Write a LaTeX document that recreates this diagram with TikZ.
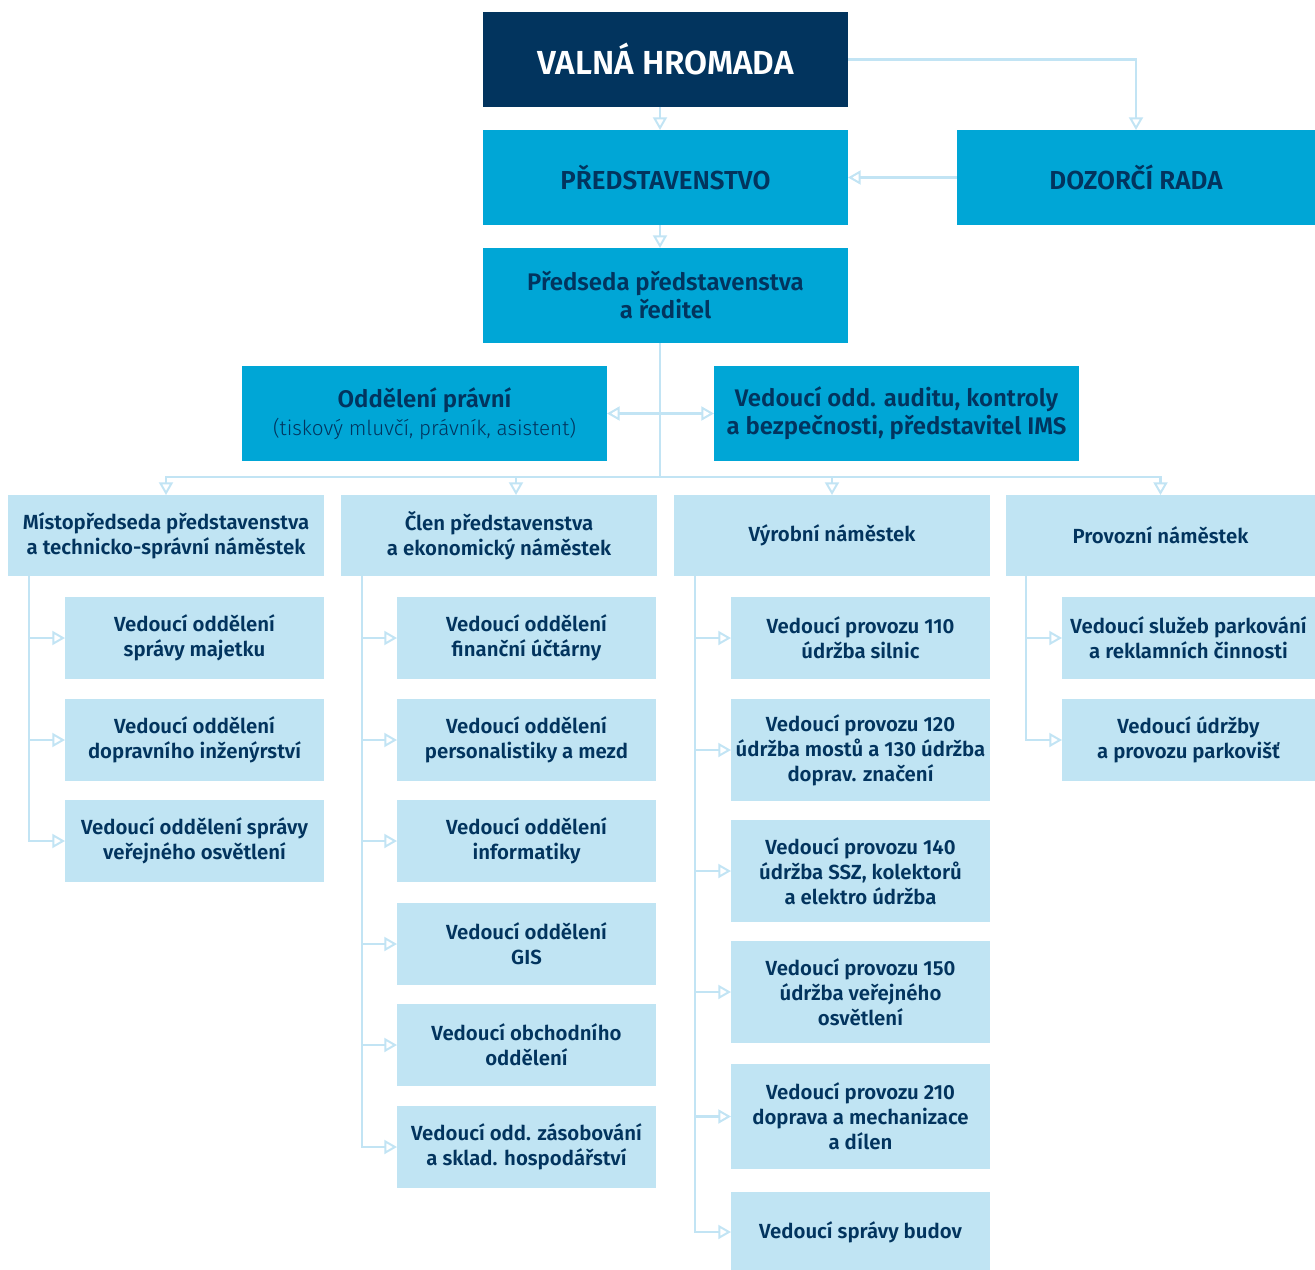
\documentclass[tikz,border=0pt]{standalone}
\usepackage{fontspec}
\setmainfont{Fira Sans}[BoldFont={Fira Sans SemiBold}]
\newfontfamily\lightfont{Fira Sans Light}
\usetikzlibrary{arrows.meta,positioning}
\definecolor{vhnavy}{RGB}{2,52,94}
\definecolor{boardblue}{RGB}{0,166,214}
\definecolor{unitblue}{RGB}{192,228,243}
\definecolor{linkblue}{RGB}{194,228,244}

\begin{document}
\begin{tikzpicture}[
  x=0.75pt,y=-0.75pt,
  >={Triangle[open,length=9.5pt,width=10.5pt,line width=1.5pt]},
  every node/.style={inner sep=0pt,outer sep=0pt,align=center},
  topbox/.style={fill=vhnavy,text=white,minimum width=273.75pt,
    minimum height=71.25pt,font=\fontsize{25}{30}\selectfont\bfseries},
  board/.style={fill=boardblue,text=vhnavy,minimum width=273.75pt,
    minimum height=71.25pt,font=\fontsize{18}{21}\selectfont\bfseries},
  head/.style={fill=unitblue,text=vhnavy,minimum width=237pt,
    minimum height=60.75pt,font=\fontsize{15.3}{18.75}\selectfont\bfseries},
  unit/.style={fill=unitblue,text=vhnavy,minimum width=194.25pt,
    minimum height=61.5pt,font=\fontsize{15.3}{18.75}\selectfont\bfseries},
  tallunit/.style={unit,minimum height=76.5pt},
  trunk/.style={draw=linkblue,line width=1.6pt},
  link/.style={trunk,->},
  link2/.style={trunk,<->},
]
\useasboundingbox (0,0) rectangle (1315,1270);

\node[topbox,anchor=north west](VH)at(483,12){VALNÁ HROMADA};
\node[board,anchor=north west,font=\fontsize{19.5}{23}\selectfont\bfseries](PR)
  at(483,130){PŘEDSTAVENSTVO};
\node[board,anchor=north west,minimum width=268.5pt,font=\fontsize{19.5}{23}\selectfont\bfseries](DR)
  at(957,130){DOZORČÍ RADA};
\node[board,anchor=north west](PS)at(483,248){Předseda představenstva\\a ředitel};
\node[board,anchor=north west](OP)at(242,366){Oddělení právní\\
  {\lightfont\mdseries\fontsize{15.5}{21}\selectfont(tiskový mluvčí, právník, asistent)}};
\node[board,anchor=north west](VA)
  at(714,366){Vedoucí odd. auditu, kontroly\\a bezpečnosti, představitel IMS};

\node[head,anchor=north west](H1)at(8,495){Místopředseda představenstva\\a technicko-správní náměstek};
\node[head,anchor=north west](H2)at(341,495){Člen představenstva\\a ekonomický náměstek};
\node[head,anchor=north west](H3)at(674,495){Výrobní náměstek};
\node[head,anchor=north west,minimum width=231.75pt](H4)at(1006,495){Provozní náměstek};

\node[unit,anchor=north west](H1R1)at(65,597){Vedoucí oddělení\\správy majetku};
\node[unit,anchor=north west](H1R2)at(65,699){Vedoucí oddělení\\dopravního inženýrství};
\node[unit,anchor=north west](H1R3)at(65,800){Vedoucí oddělení správy\\veřejného osvětlení};

\node[unit,anchor=north west](H2R1)at(397,597){Vedoucí oddělení\\finanční účtárny};
\node[unit,anchor=north west](H2R2)at(397,699){Vedoucí oddělení\\personalistiky a mezd};
\node[unit,anchor=north west](H2R3)at(397,800){Vedoucí oddělení\\informatiky};
\node[unit,anchor=north west](H2R4)at(397,903){Vedoucí oddělení\\GIS};
\node[unit,anchor=north west](H2R5)at(397,1004){Vedoucí obchodního\\oddělení};
\node[unit,anchor=north west](H2R6)at(397,1106){Vedoucí odd. zásobování\\a sklad. hospodářství};

\node[unit,anchor=north west](H3R1)at(731,597){Vedoucí provozu 110\\údržba silnic};
\node[tallunit,anchor=north west](H3R2)at(731,699){Vedoucí provozu 120\\údržba mostů a 130 údržba\\doprav. značení};
\node[tallunit,anchor=north west](H3R3)at(731,820){Vedoucí provozu 140\\údržba SSZ, kolektorů\\a elektro údržba};
\node[tallunit,anchor=north west](H3R4)at(731,941){Vedoucí provozu 150\\údržba veřejného\\osvětlení};
\node[tallunit,anchor=north west,minimum height=78.75pt](H3R5)at(731,1064){Vedoucí provozu 210\\doprava a mechanizace\\a dílen};
\node[tallunit,anchor=north west,minimum height=60pt](H3R6)at(731,1192){Vedoucí správy budov};

\node[unit,anchor=north west,minimum width=189.75pt](H4R1)at(1062,597){Vedoucí služeb parkování\\a reklamních činnosti};
\node[unit,anchor=north west,minimum width=189.75pt](H4R2)at(1062,699){Vedoucí údržby\\a provozu parkovišť};

\coordinate(B)at(660,477);
\draw[link](VH.south-|B)--(PR.north-|B);
\draw[link](VH.east)-|(DR.north);
\draw[link](DR)--(PR);
\draw[link](PR.south-|B)--(PS.north-|B);
\draw[link2](OP)--(VA);

\draw[trunk](PS.south-|B)--(B);
\draw[link](B)-|(H1.north);
\draw[link](B)-|([xshift=12.75pt]H2.north);
\draw[link](B)-|(H3.north);
\draw[link](B)-|(H4.north);

\coordinate(T1)at(29,576);
\coordinate(T2)at(362,576);
\coordinate(T3)at(695,576);
\coordinate(T4)at(1026,576);

\draw[link](T1)|-(H1R1.west);
\draw[link](T1)|-(H1R2.west);
\draw[link](T1)|-(H1R3.west);

\draw[link](T2)|-(H2R1.west);
\draw[link](T2)|-(H2R2.west);
\draw[link](T2)|-(H2R3.west);
\draw[link](T2)|-(H2R4.west);
\draw[link](T2)|-(H2R5.west);
\draw[link](T2)|-(H2R6.west);

\draw[link](T3)|-(H3R1.west);
\draw[link](T3)|-(H3R2.west);
\draw[link](T3)|-(H3R3.west);
\draw[link](T3)|-(H3R4.west);
\draw[link](T3)|-(H3R5.west);
\draw[link](T3)|-(H3R6.west);

\draw[link](T4)|-(H4R1.west);
\draw[link](T4)|-(H4R2.west);
\end{tikzpicture}
\end{document}
